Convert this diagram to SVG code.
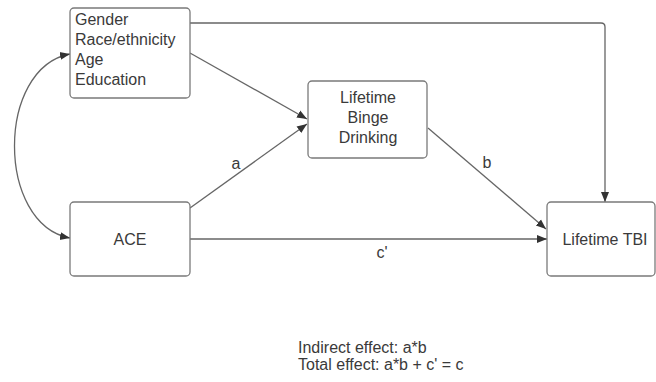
<svg xmlns="http://www.w3.org/2000/svg" width="656" height="382" viewBox="0 0 656 382">
<defs>
<style>
.box{fill:#fff;stroke:#7a7a7a;stroke-width:1.3}
.t{font-family:"Liberation Sans",Arial,sans-serif;font-size:16px;fill:#3a3a3a}
.c{text-anchor:middle}
.ln{fill:none;stroke:#666;stroke-width:1.3}
</style>
<marker id="ah" viewBox="0 0 10 10" refX="10" refY="5" markerWidth="10" markerHeight="10" markerUnits="userSpaceOnUse" orient="auto-start-reverse">
<path d="M0,1 L10,5 L0,9 Z" fill="#333"/>
</marker>
</defs>
<rect width="656" height="382" fill="#fff"/>
<g id="connectors">
<path class="ln" d="M190,23 H601 Q605,23 605,27 V202" marker-end="url(#ah)"/>
<path class="ln" d="M190,53 L307,119" marker-end="url(#ah)"/>
<path class="ln" d="M190,208 L307,124" marker-end="url(#ah)"/>
<path class="ln" d="M190,239 L547,239" marker-end="url(#ah)"/>
<path class="ln" d="M428,128 L546,229" marker-end="url(#ah)"/>
<path class="ln" d="M70,54 C-4,68 -4,224 70,238" marker-start="url(#ah)" marker-end="url(#ah)"/>
<text class="t c" x="236" y="169">a</text>
<text class="t c" x="487" y="168">b</text>
<text class="t c" x="382" y="258">c'</text>
</g>
<g id="covariates">
<rect class="box" x="70" y="8" width="120" height="90" rx="4"/>
<text class="t" x="75" y="25">Gender</text>
<text class="t" x="75" y="45">Race/ethnicity</text>
<text class="t" x="75" y="65">Age</text>
<text class="t" x="75" y="85">Education</text>
</g>
<g id="binge">
<rect class="box" x="308" y="81" width="119" height="77" rx="4"/>
<text class="t c" x="368" y="103">Lifetime</text>
<text class="t c" x="368" y="123">Binge</text>
<text class="t c" x="368" y="143">Drinking</text>
</g>
<g id="ace">
<rect class="box" x="70" y="202" width="120" height="74" rx="4"/>
<text class="t c" x="130" y="245">ACE</text>
</g>
<g id="tbi">
<rect class="box" x="547" y="202" width="108" height="74" rx="4"/>
<text class="t c" x="605" y="245">Lifetime TBI</text>
</g>
<g id="notes">
<text class="t" x="298" y="353">Indirect effect: a*b</text>
<text class="t" x="298" y="370">Total effect: a*b + c' = c</text>
</g>
</svg>
